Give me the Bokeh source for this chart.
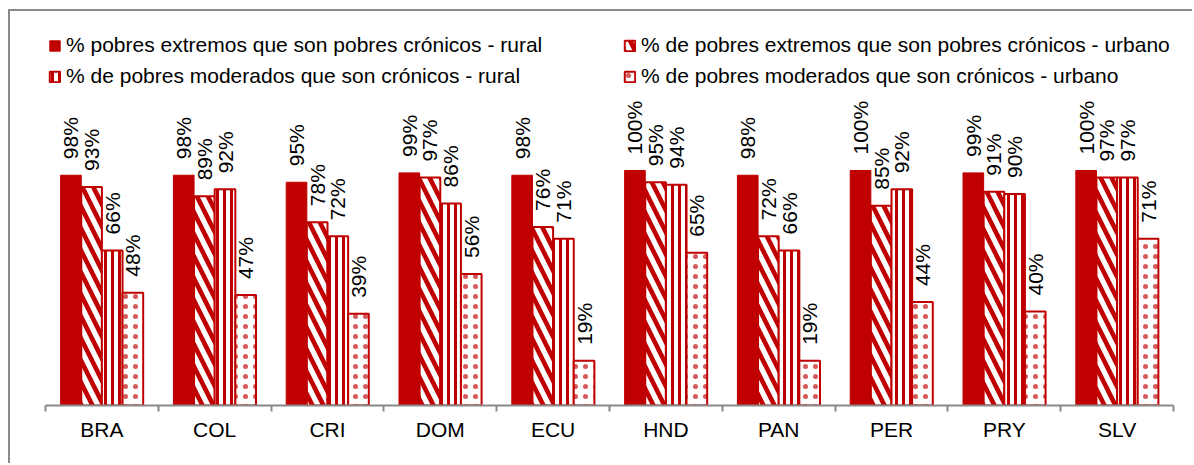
import math
from bokeh.plotting import figure
from bokeh.models import ColumnDataSource, Range1d, FixedTicker, Legend, LegendItem
from bokeh.core.properties import value
from bokeh.embed import file_html
from bokeh.resources import INLINE

# ---- data ----
countries = ["BRA", "COL", "CRI", "DOM", "ECU", "HND", "PAN", "PER", "PRY", "SLV"]
ext_rural = [98, 98, 95, 99, 98, 100, 98, 100, 99, 100]
ext_urban = [93, 89, 78, 97, 76, 95, 72, 85, 91, 97]
mod_rural = [66, 92, 72, 86, 71, 94, 66, 92, 90, 97]
mod_urban = [48, 47, 39, 56, 19, 65, 19, 44, 40, 71]
series_names = [
    "% pobres extremos que son pobres crónicos - rural",
    "% de pobres extremos que son pobres crónicos - urbano",
    "% de pobres moderados que son crónicos - rural",
    "% de pobres moderados que son crónicos - urbano",
]
series = [ext_rural, ext_urban, mod_rural, mod_urban]

RED = "#C00000"
GRAY = "#898989"
FONT = "Liberation Sans"

p = figure(width=1184, height=454, output_backend="svg", toolbar_location=None,
           x_range=Range1d(0, len(countries)), y_range=Range1d(0, 164.7),
           y_axis_location=None,
           min_border_left=35, min_border_right=21, min_border_top=7, min_border_bottom=60)
p.outline_line_color = None
p.xgrid.grid_line_color = None
p.ygrid.grid_line_color = None
p.background_fill_color = "white"
p.border_fill_color = "white"
p.styles = {"margin-left": "8px", "margin-top": "9px",
            "border-left": f"2px solid {GRAY}", "border-top": f"2px solid {GRAY}"}

bw = 0.183
offsets = [-1.5 * bw, -0.5 * bw, 0.5 * bw, 1.5 * bw]
bar_styles = [
    dict(fill_color=RED, line_width=1),
    dict(fill_color="white", hatch_pattern="left_diagonal_line", hatch_color=RED,
         hatch_scale=22, hatch_weight=4.6, line_width=2),
    dict(fill_color="white", hatch_pattern="vertical_line", hatch_color=RED,
         hatch_scale=7, hatch_weight=3, line_width=2),
    dict(fill_color="white", hatch_pattern="dot", hatch_color=RED,
         hatch_scale=10, hatch_weight=1, hatch_alpha=0.65, line_width=2),
]

renderers = []
for k, vals in enumerate(series):
    src = ColumnDataSource(dict(
        x=[i + 0.5 + offsets[k] for i in range(len(countries))],
        top=vals,
        label=[f"{v}%" for v in vals],
    ))
    r = p.vbar(x="x", top="top", width=bw, source=src, line_color=RED, **bar_styles[k])
    renderers.append(r)
    p.text(x="x", y="top", text="label", source=src, angle=math.pi / 2,
           text_align="left", text_baseline="middle", y_offset=-16,
           text_font=value(FONT), text_font_size="21px", text_color="black")

ax = p.xaxis[0]
ax.ticker = FixedTicker(ticks=[i + 0.5 for i in range(len(countries))],
                        minor_ticks=list(range(len(countries) + 1)))
ax.major_label_overrides = {i + 0.5: c for i, c in enumerate(countries)}
ax.axis_line_color = GRAY
ax.axis_line_width = 2
ax.major_tick_line_color = None
ax.major_tick_out = 6
ax.major_tick_in = 0
ax.minor_tick_line_color = GRAY
ax.minor_tick_line_width = 2
ax.minor_tick_out = 6
ax.minor_tick_in = 0
ax.major_label_text_font = FONT
ax.major_label_text_font_size = "21px"
ax.major_label_text_color = "black"
ax.major_label_standoff = 6

def make_legend(items, vx):
    lg = Legend(items=items, location=(vx, 317), orientation="vertical",
                glyph_width=13, glyph_height=13, label_standoff=5, spacing=7,
                padding=0, margin=0, border_line_color=None,
                background_fill_alpha=0, label_text_font=FONT,
                label_text_font_size="21px", label_text_color="black")
    p.add_layout(lg, "center")

make_legend([LegendItem(label=series_names[0], renderers=[renderers[0]]),
             LegendItem(label=series_names[2], renderers=[renderers[2]])], 3)
make_legend([LegendItem(label=series_names[1], renderers=[renderers[1]]),
             LegendItem(label=series_names[3], renderers=[renderers[3]])], 578)

open("out.html", "w").write(file_html(p, INLINE))
